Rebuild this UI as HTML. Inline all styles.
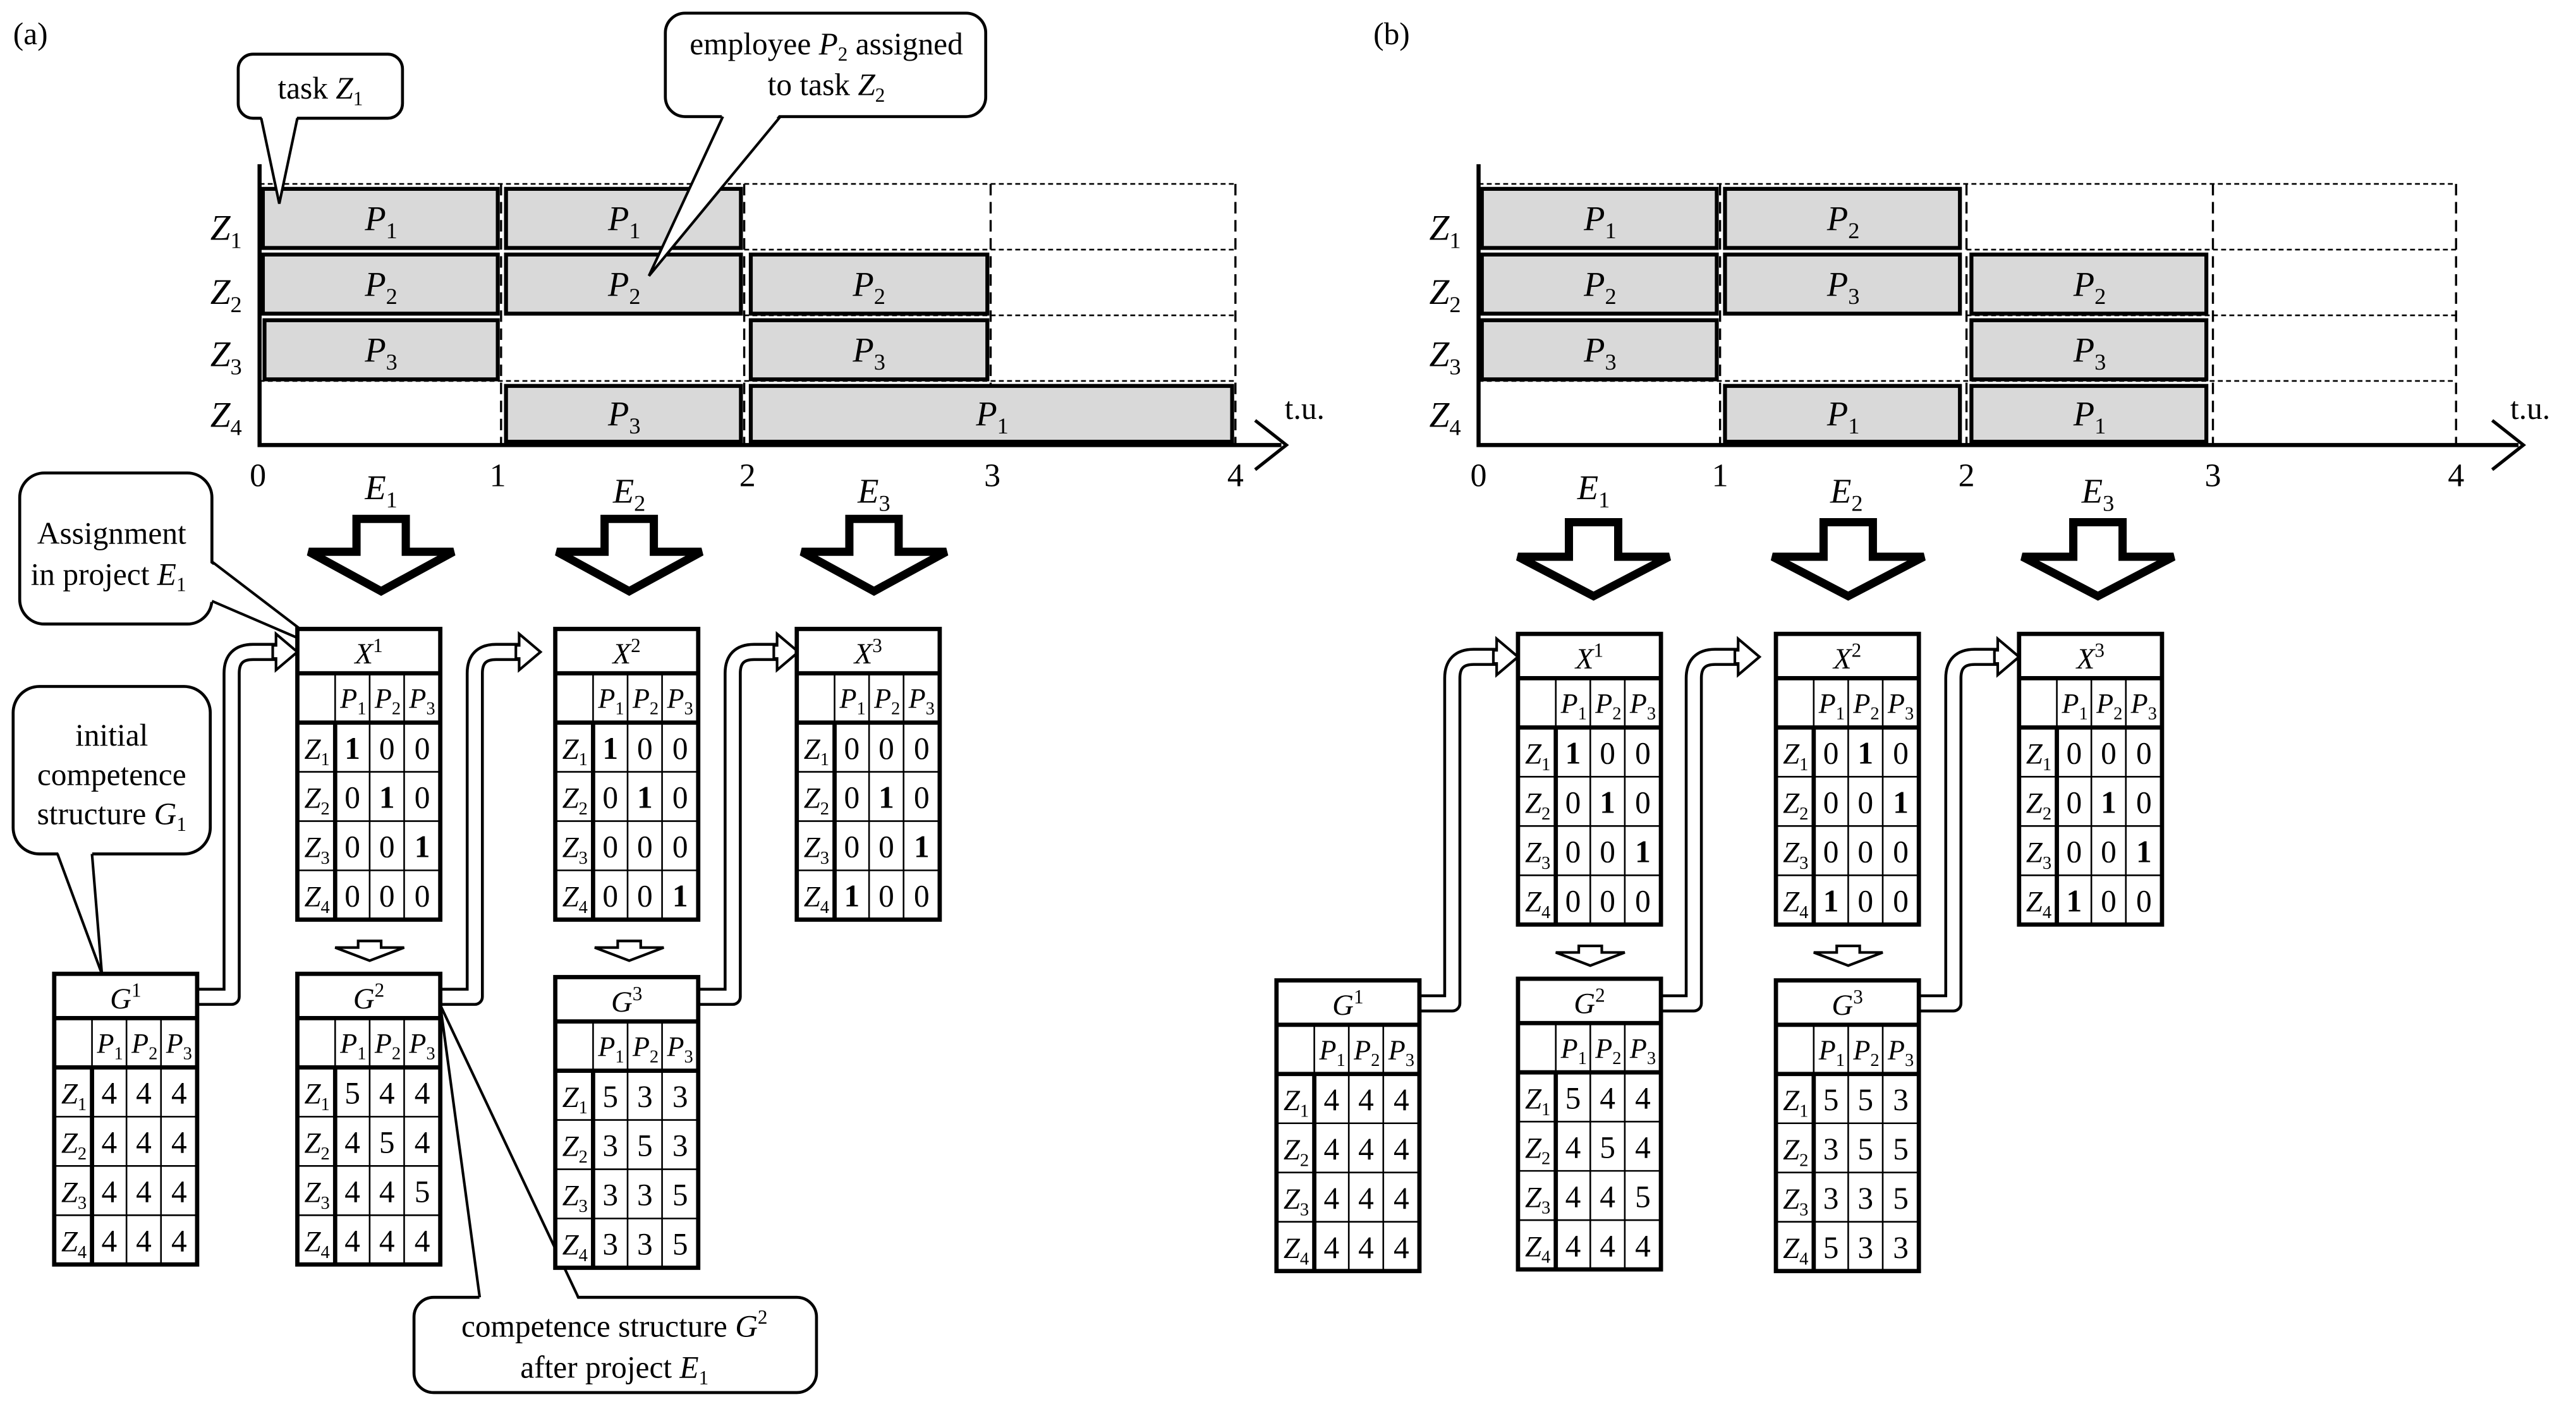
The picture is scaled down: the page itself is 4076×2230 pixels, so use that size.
<!DOCTYPE html>
<html><head><meta charset="utf-8"><style>
html,body{margin:0;padding:0;background:#fff}
svg{display:block}
text{font-family:"Liberation Serif",serif;fill:#000}
.i{font-style:italic}
tspan[font-size]{font-style:normal}
.c{text-anchor:middle}
.tb{fill:#fff;stroke:#000;stroke-width:2.6}
.th{fill:none;stroke:#000;stroke-width:2.6}
.tn{fill:none;stroke:#000;stroke-width:1}
.bar{fill:#d9d9d9;stroke:#000;stroke-width:2.4}
.dl{stroke:#000;stroke-width:1;stroke-dasharray:3,2;fill:none}
.dv{stroke:#000;stroke-width:1.3;stroke-dasharray:7,4;fill:none}
.cl{fill:#fff;stroke:#000;stroke-width:1.8}
.cv{font-size:19px;text-anchor:middle}
.cz{font-size:18px;font-style:italic;text-anchor:middle}
.ph{font-size:17px;font-style:italic;text-anchor:middle}
.hd{font-size:18px;font-style:italic;text-anchor:middle}
.ct{font-size:19px;text-anchor:middle}
</style></head><body>
<svg width="4076" height="2230" viewBox="0 0 1568 858" preserveAspectRatio="none" xmlns="http://www.w3.org/2000/svg">
<defs>
<g id="grid">
<rect x="0" y="0" width="87" height="177" class="tb"/>
<path class="th" d="M0 27H87M0 57H87M23 57V177"/>
<path class="tn" d="M23 27V57M44 27V177M65 27V177M0 87H87M0 117H87M0 147H87"/>
</g>
</defs>

<text x="8" y="27" font-size="19">(a)</text>
<text x="836" y="27" font-size="19">(b)</text>

<!-- ===== Gantt (a) ===== -->
<g>
<path class="dl" d="M158 112H752M453 152H752M453 192H752M158 232H752"/>
<path class="dv" d="M305 112V270M453 112V270M603 112V270M752 112V270"/>
<rect class="bar" x="160" y="115" width="143" height="36"/>
<rect class="bar" x="308" y="115" width="143" height="36"/>
<rect class="bar" x="160" y="155" width="143" height="36"/>
<rect class="bar" x="308" y="155" width="143" height="36"/>
<rect class="bar" x="457" y="155" width="144" height="36"/>
<rect class="bar" x="161" y="195" width="142" height="36"/>
<rect class="bar" x="457" y="195" width="144" height="36"/>
<rect class="bar" x="308" y="235" width="143" height="34"/>
<rect class="bar" x="457" y="235" width="293" height="34"/>
<path d="M158 100V271H780" fill="none" stroke="#000" stroke-width="2.5"/>
<path d="M764 256L783 271L764 286" fill="none" stroke="#000" stroke-width="2"/>
<text x="782" y="255" font-size="19">t.u.</text>
<g font-size="22" class="i">
<text x="128" y="146">Z<tspan font-size="14" dy="5">1</tspan></text>
<text x="128" y="185">Z<tspan font-size="14" dy="5">2</tspan></text>
<text x="128" y="223">Z<tspan font-size="14" dy="5">3</tspan></text>
<text x="128" y="260">Z<tspan font-size="14" dy="5">4</tspan></text>
</g>
<g font-size="21" class="i c">
<text x="232" y="140">P<tspan font-size="14" dy="5">1</tspan></text>
<text x="380" y="140">P<tspan font-size="14" dy="5">1</tspan></text>
<text x="232" y="180">P<tspan font-size="14" dy="5">2</tspan></text>
<text x="380" y="180">P<tspan font-size="14" dy="5">2</tspan></text>
<text x="529" y="180">P<tspan font-size="14" dy="5">2</tspan></text>
<text x="232" y="220">P<tspan font-size="14" dy="5">3</tspan></text>
<text x="529" y="220">P<tspan font-size="14" dy="5">3</tspan></text>
<text x="380" y="259">P<tspan font-size="14" dy="5">3</tspan></text>
<text x="604" y="259">P<tspan font-size="14" dy="5">1</tspan></text>
</g>
<g font-size="20" class="c">
<text x="157" y="296">0</text><text x="303" y="296">1</text><text x="455" y="296">2</text><text x="604" y="296">3</text><text x="752" y="296">4</text>
</g>
<g font-size="21" class="i c">
<text x="232" y="304">E<tspan font-size="14" dy="5">1</tspan></text>
<text x="383" y="306">E<tspan font-size="14" dy="5">2</tspan></text>
<text x="532" y="306">E<tspan font-size="14" dy="5">3</tspan></text>
</g>
<g fill="#fff" stroke="#000" stroke-width="5" stroke-linejoin="miter">
<polygon points="217,316 247,316 247,336 276,336 232,360 188,336 217,336"/>
<polygon points="368,316 398,316 398,336 427,336 383,360 339,336 368,336"/>
<polygon points="517,316 547,316 547,336 576,336 532,360 488,336 517,336"/>
</g>
</g>

<!-- ===== Gantt (b) ===== -->
<g>
<path class="dl" d="M900 112H1495M1197 152H1495M1197 192H1495M900 232H1495"/>
<path class="dv" d="M1047 112V270M1197 112V270M1347 112V270M1495 112V270"/>
<rect class="bar" x="902" y="115" width="143" height="36"/>
<rect class="bar" x="1050" y="115" width="143" height="36"/>
<rect class="bar" x="902" y="155" width="143" height="36"/>
<rect class="bar" x="1050" y="155" width="143" height="36"/>
<rect class="bar" x="1200" y="155" width="143" height="36"/>
<rect class="bar" x="902" y="195" width="143" height="36"/>
<rect class="bar" x="1200" y="195" width="143" height="36"/>
<rect class="bar" x="1050" y="235" width="143" height="34"/>
<rect class="bar" x="1200" y="235" width="143" height="34"/>
<path d="M900 100V271H1533" fill="none" stroke="#000" stroke-width="2.5"/>
<path d="M1517 256L1536 271L1517 286" fill="none" stroke="#000" stroke-width="2"/>
<text x="1528" y="255" font-size="19">t.u.</text>
<g font-size="22" class="i">
<text x="870" y="146">Z<tspan font-size="14" dy="5">1</tspan></text>
<text x="870" y="185">Z<tspan font-size="14" dy="5">2</tspan></text>
<text x="870" y="223">Z<tspan font-size="14" dy="5">3</tspan></text>
<text x="870" y="260">Z<tspan font-size="14" dy="5">4</tspan></text>
</g>
<g font-size="21" class="i c">
<text x="974" y="140">P<tspan font-size="14" dy="5">1</tspan></text>
<text x="1122" y="140">P<tspan font-size="14" dy="5">2</tspan></text>
<text x="974" y="180">P<tspan font-size="14" dy="5">2</tspan></text>
<text x="1122" y="180">P<tspan font-size="14" dy="5">3</tspan></text>
<text x="1272" y="180">P<tspan font-size="14" dy="5">2</tspan></text>
<text x="974" y="220">P<tspan font-size="14" dy="5">3</tspan></text>
<text x="1272" y="220">P<tspan font-size="14" dy="5">3</tspan></text>
<text x="1122" y="259">P<tspan font-size="14" dy="5">1</tspan></text>
<text x="1272" y="259">P<tspan font-size="14" dy="5">1</tspan></text>
</g>
<g font-size="20" class="c">
<text x="900" y="296">0</text><text x="1047" y="296">1</text><text x="1197" y="296">2</text><text x="1347" y="296">3</text><text x="1495" y="296">4</text>
</g>
<g font-size="21" class="i c">
<text x="970" y="304">E<tspan font-size="14" dy="5">1</tspan></text>
<text x="1124" y="306">E<tspan font-size="14" dy="5">2</tspan></text>
<text x="1277" y="306">E<tspan font-size="14" dy="5">3</tspan></text>
</g>
<g fill="#fff" stroke="#000" stroke-width="5">
<polygon points="955,318 985,318 985,339 1016,339 970,363 924,339 955,339"/>
<polygon points="1110,318 1140,318 1140,339 1171,339 1125,363 1079,339 1110,339"/>
<polygon points="1262,318 1292,318 1292,339 1323,339 1277,363 1231,339 1262,339"/>
</g>
</g>

<!-- ===== callouts (a) ===== -->
<rect class="cl" x="145" y="33" width="100" height="39" rx="9"/>
<polygon points="159,70 181,70 170,124" fill="#fff"/>
<polyline points="159,72 170,124 181,72" fill="none" stroke="#000" stroke-width="1.6"/>
<text x="195" y="60" class="ct">task <tspan class="i">Z</tspan><tspan font-size="12" dy="4">1</tspan></text>

<rect class="cl" x="405" y="8" width="195" height="63" rx="12"/>
<polygon points="440,69 475,69 395,168" fill="#fff"/>
<polyline points="440,71 395,168 475,71" fill="none" stroke="#000" stroke-width="1.6"/>
<text x="503" y="33" class="ct">employee <tspan class="i">P</tspan><tspan font-size="12" dy="4">2</tspan><tspan dy="-4"> assigned</tspan></text>
<text x="503" y="58" class="ct">to task <tspan class="i">Z</tspan><tspan font-size="12" dy="4">2</tspan></text>

<rect class="cl" x="12" y="288" width="117" height="92" rx="15"/>
<polygon points="127,342 127,366 201,397" fill="#fff"/>
<polyline points="129,342 201,397 129,366" fill="none" stroke="#000" stroke-width="1.6"/>
<text x="68" y="331" class="ct">Assignment</text>
<text x="66" y="356" class="ct">in project <tspan class="i">E</tspan><tspan font-size="12" dy="4">1</tspan></text>

<rect class="cl" x="8" y="418" width="120" height="102" rx="16"/>
<polygon points="35,518 56,518 62,593" fill="#fff"/>
<polyline points="35,520 62,593 56,520" fill="none" stroke="#000" stroke-width="1.6"/>
<text x="68" y="454" class="ct">initial</text>
<text x="68" y="478" class="ct">competence</text>
<text x="68" y="502" class="ct">structure <tspan class="i">G</tspan><tspan font-size="12" dy="4">1</tspan></text>

<rect class="cl" x="252" y="790" width="245" height="58" rx="12"/>
<polygon points="292,792 352,792 268,612" fill="#fff"/>
<polyline points="292,790 268,612 352,790" fill="none" stroke="#000" stroke-width="1.6"/>
<text x="374" y="814" class="ct">competence structure <tspan class="i">G</tspan><tspan font-size="12" dy="-8">2</tspan></text>
<text x="374" y="839" class="ct">after project <tspan class="i">E</tspan><tspan font-size="12" dy="4">1</tspan></text>

<!-- ===== connectors ===== -->
<g fill="none" stroke-linejoin="round">
<g stroke="#000" stroke-width="11">
<path d="M120 607H141V410Q141 397 154 397H170"/>
<path d="M268 607H289V410Q289 397 302 397H318"/>
<path d="M425 607H446V410Q446 397 459 397H475"/>
<path d="M863 611H884V413Q884 400 897 400H913"/>
<path d="M1010 611H1031V413Q1031 400 1044 400H1060"/>
<path d="M1168 611H1189V413Q1189 400 1202 400H1218"/>
</g>
<g stroke="#fff" stroke-width="7.5">
<path d="M118 607H141V410Q141 397 154 397H172"/>
<path d="M266 607H289V410Q289 397 302 397H320"/>
<path d="M423 607H446V410Q446 397 459 397H477"/>
<path d="M861 611H884V413Q884 400 897 400H915"/>
<path d="M1008 611H1031V413Q1031 400 1044 400H1062"/>
<path d="M1166 611H1189V413Q1189 400 1202 400H1220"/>
</g>
</g>
<g fill="#fff" stroke="#000" stroke-width="1.6">
<polygon points="168,386 181,397 168,408 168,401 166,401 166,393 168,393"/>
<polygon points="316,386 329,397 316,408 316,401 314,401 314,393 316,393"/>
<polygon points="473,386 486,397 473,408 473,401 471,401 471,393 473,393"/>
<polygon points="911,389 924,400 911,411 911,404 909,404 909,396 911,396"/>
<polygon points="1058,389 1071,400 1058,411 1058,404 1056,404 1056,396 1058,396"/>
<polygon points="1216,389 1229,400 1216,411 1216,404 1214,404 1214,396 1216,396"/>
</g>

<!-- small arrows -->
<g fill="#fff" stroke="#000" stroke-width="1.6">
<polygon points="218,573 232,573 232,577 246,577 225,585 204,577 218,577"/>
<polygon points="376,573 390,573 390,577 404,577 383,585 362,577 376,577"/>
<polygon points="961,576 975,576 975,580 989,580 968,588 947,580 961,580"/>
<polygon points="1118,576 1132,576 1132,580 1146,580 1125,588 1104,580 1118,580"/>
</g>

<!-- ===== Tables (a) ===== -->
<g transform="translate(181,383)">
<use href="#grid"/>
<text x="43.5" y="21" class="hd">X<tspan font-size="12" dy="-7">1</tspan></text>
<g class="ph"><text x="34" y="48">P<tspan font-size="11" dy="4">1</tspan></text><text x="55" y="48">P<tspan font-size="11" dy="4">2</tspan></text><text x="76" y="48">P<tspan font-size="11" dy="4">3</tspan></text></g>
<g class="cz"><text x="12" y="79">Z<tspan font-size="11" dy="4">1</tspan></text><text x="12" y="109">Z<tspan font-size="11" dy="4">2</tspan></text><text x="12" y="139">Z<tspan font-size="11" dy="4">3</tspan></text><text x="12" y="169">Z<tspan font-size="11" dy="4">4</tspan></text></g>
<g class="cv"><text x="33.5" y="79" font-weight="bold">1</text><text x="54.5" y="79">0</text><text x="76" y="79">0</text>
<text x="33.5" y="109">0</text><text x="54.5" y="109" font-weight="bold">1</text><text x="76" y="109">0</text>
<text x="33.5" y="139">0</text><text x="54.5" y="139">0</text><text x="76" y="139" font-weight="bold">1</text>
<text x="33.5" y="169">0</text><text x="54.5" y="169">0</text><text x="76" y="169">0</text></g>
</g>
<g transform="translate(338,383)">
<use href="#grid"/>
<text x="43.5" y="21" class="hd">X<tspan font-size="12" dy="-7">2</tspan></text>
<g class="ph"><text x="34" y="48">P<tspan font-size="11" dy="4">1</tspan></text><text x="55" y="48">P<tspan font-size="11" dy="4">2</tspan></text><text x="76" y="48">P<tspan font-size="11" dy="4">3</tspan></text></g>
<g class="cz"><text x="12" y="79">Z<tspan font-size="11" dy="4">1</tspan></text><text x="12" y="109">Z<tspan font-size="11" dy="4">2</tspan></text><text x="12" y="139">Z<tspan font-size="11" dy="4">3</tspan></text><text x="12" y="169">Z<tspan font-size="11" dy="4">4</tspan></text></g>
<g class="cv"><text x="33.5" y="79" font-weight="bold">1</text><text x="54.5" y="79">0</text><text x="76" y="79">0</text>
<text x="33.5" y="109">0</text><text x="54.5" y="109" font-weight="bold">1</text><text x="76" y="109">0</text>
<text x="33.5" y="139">0</text><text x="54.5" y="139">0</text><text x="76" y="139">0</text>
<text x="33.5" y="169">0</text><text x="54.5" y="169">0</text><text x="76" y="169" font-weight="bold">1</text></g>
</g>
<g transform="translate(485,383)">
<use href="#grid"/>
<text x="43.5" y="21" class="hd">X<tspan font-size="12" dy="-7">3</tspan></text>
<g class="ph"><text x="34" y="48">P<tspan font-size="11" dy="4">1</tspan></text><text x="55" y="48">P<tspan font-size="11" dy="4">2</tspan></text><text x="76" y="48">P<tspan font-size="11" dy="4">3</tspan></text></g>
<g class="cz"><text x="12" y="79">Z<tspan font-size="11" dy="4">1</tspan></text><text x="12" y="109">Z<tspan font-size="11" dy="4">2</tspan></text><text x="12" y="139">Z<tspan font-size="11" dy="4">3</tspan></text><text x="12" y="169">Z<tspan font-size="11" dy="4">4</tspan></text></g>
<g class="cv"><text x="33.5" y="79">0</text><text x="54.5" y="79">0</text><text x="76" y="79">0</text>
<text x="33.5" y="109">0</text><text x="54.5" y="109" font-weight="bold">1</text><text x="76" y="109">0</text>
<text x="33.5" y="139">0</text><text x="54.5" y="139">0</text><text x="76" y="139" font-weight="bold">1</text>
<text x="33.5" y="169" font-weight="bold">1</text><text x="54.5" y="169">0</text><text x="76" y="169">0</text></g>
</g>
<g transform="translate(33,593)">
<use href="#grid"/>
<text x="43.5" y="21" class="hd">G<tspan font-size="12" dy="-7">1</tspan></text>
<g class="ph"><text x="34" y="48">P<tspan font-size="11" dy="4">1</tspan></text><text x="55" y="48">P<tspan font-size="11" dy="4">2</tspan></text><text x="76" y="48">P<tspan font-size="11" dy="4">3</tspan></text></g>
<g class="cz"><text x="12" y="79">Z<tspan font-size="11" dy="4">1</tspan></text><text x="12" y="109">Z<tspan font-size="11" dy="4">2</tspan></text><text x="12" y="139">Z<tspan font-size="11" dy="4">3</tspan></text><text x="12" y="169">Z<tspan font-size="11" dy="4">4</tspan></text></g>
<g class="cv"><text x="33.5" y="79">4</text><text x="54.5" y="79">4</text><text x="76" y="79">4</text>
<text x="33.5" y="109">4</text><text x="54.5" y="109">4</text><text x="76" y="109">4</text>
<text x="33.5" y="139">4</text><text x="54.5" y="139">4</text><text x="76" y="139">4</text>
<text x="33.5" y="169">4</text><text x="54.5" y="169">4</text><text x="76" y="169">4</text></g>
</g>
<g transform="translate(181,593)">
<use href="#grid"/>
<text x="43.5" y="21" class="hd">G<tspan font-size="12" dy="-7">2</tspan></text>
<g class="ph"><text x="34" y="48">P<tspan font-size="11" dy="4">1</tspan></text><text x="55" y="48">P<tspan font-size="11" dy="4">2</tspan></text><text x="76" y="48">P<tspan font-size="11" dy="4">3</tspan></text></g>
<g class="cz"><text x="12" y="79">Z<tspan font-size="11" dy="4">1</tspan></text><text x="12" y="109">Z<tspan font-size="11" dy="4">2</tspan></text><text x="12" y="139">Z<tspan font-size="11" dy="4">3</tspan></text><text x="12" y="169">Z<tspan font-size="11" dy="4">4</tspan></text></g>
<g class="cv"><text x="33.5" y="79">5</text><text x="54.5" y="79">4</text><text x="76" y="79">4</text>
<text x="33.5" y="109">4</text><text x="54.5" y="109">5</text><text x="76" y="109">4</text>
<text x="33.5" y="139">4</text><text x="54.5" y="139">4</text><text x="76" y="139">5</text>
<text x="33.5" y="169">4</text><text x="54.5" y="169">4</text><text x="76" y="169">4</text></g>
</g>
<g transform="translate(338,595)">
<use href="#grid"/>
<text x="43.5" y="21" class="hd">G<tspan font-size="12" dy="-7">3</tspan></text>
<g class="ph"><text x="34" y="48">P<tspan font-size="11" dy="4">1</tspan></text><text x="55" y="48">P<tspan font-size="11" dy="4">2</tspan></text><text x="76" y="48">P<tspan font-size="11" dy="4">3</tspan></text></g>
<g class="cz"><text x="12" y="79">Z<tspan font-size="11" dy="4">1</tspan></text><text x="12" y="109">Z<tspan font-size="11" dy="4">2</tspan></text><text x="12" y="139">Z<tspan font-size="11" dy="4">3</tspan></text><text x="12" y="169">Z<tspan font-size="11" dy="4">4</tspan></text></g>
<g class="cv"><text x="33.5" y="79">5</text><text x="54.5" y="79">3</text><text x="76" y="79">3</text>
<text x="33.5" y="109">3</text><text x="54.5" y="109">5</text><text x="76" y="109">3</text>
<text x="33.5" y="139">3</text><text x="54.5" y="139">3</text><text x="76" y="139">5</text>
<text x="33.5" y="169">3</text><text x="54.5" y="169">3</text><text x="76" y="169">5</text></g>
</g>

<!-- ===== Tables (b) ===== -->
<g transform="translate(924,386)">
<use href="#grid"/>
<text x="43.5" y="21" class="hd">X<tspan font-size="12" dy="-7">1</tspan></text>
<g class="ph"><text x="34" y="48">P<tspan font-size="11" dy="4">1</tspan></text><text x="55" y="48">P<tspan font-size="11" dy="4">2</tspan></text><text x="76" y="48">P<tspan font-size="11" dy="4">3</tspan></text></g>
<g class="cz"><text x="12" y="79">Z<tspan font-size="11" dy="4">1</tspan></text><text x="12" y="109">Z<tspan font-size="11" dy="4">2</tspan></text><text x="12" y="139">Z<tspan font-size="11" dy="4">3</tspan></text><text x="12" y="169">Z<tspan font-size="11" dy="4">4</tspan></text></g>
<g class="cv"><text x="33.5" y="79" font-weight="bold">1</text><text x="54.5" y="79">0</text><text x="76" y="79">0</text>
<text x="33.5" y="109">0</text><text x="54.5" y="109" font-weight="bold">1</text><text x="76" y="109">0</text>
<text x="33.5" y="139">0</text><text x="54.5" y="139">0</text><text x="76" y="139" font-weight="bold">1</text>
<text x="33.5" y="169">0</text><text x="54.5" y="169">0</text><text x="76" y="169">0</text></g>
</g>
<g transform="translate(1081,386)">
<use href="#grid"/>
<text x="43.5" y="21" class="hd">X<tspan font-size="12" dy="-7">2</tspan></text>
<g class="ph"><text x="34" y="48">P<tspan font-size="11" dy="4">1</tspan></text><text x="55" y="48">P<tspan font-size="11" dy="4">2</tspan></text><text x="76" y="48">P<tspan font-size="11" dy="4">3</tspan></text></g>
<g class="cz"><text x="12" y="79">Z<tspan font-size="11" dy="4">1</tspan></text><text x="12" y="109">Z<tspan font-size="11" dy="4">2</tspan></text><text x="12" y="139">Z<tspan font-size="11" dy="4">3</tspan></text><text x="12" y="169">Z<tspan font-size="11" dy="4">4</tspan></text></g>
<g class="cv"><text x="33.5" y="79">0</text><text x="54.5" y="79" font-weight="bold">1</text><text x="76" y="79">0</text>
<text x="33.5" y="109">0</text><text x="54.5" y="109">0</text><text x="76" y="109" font-weight="bold">1</text>
<text x="33.5" y="139">0</text><text x="54.5" y="139">0</text><text x="76" y="139">0</text>
<text x="33.5" y="169" font-weight="bold">1</text><text x="54.5" y="169">0</text><text x="76" y="169">0</text></g>
</g>
<g transform="translate(1229,386)">
<use href="#grid"/>
<text x="43.5" y="21" class="hd">X<tspan font-size="12" dy="-7">3</tspan></text>
<g class="ph"><text x="34" y="48">P<tspan font-size="11" dy="4">1</tspan></text><text x="55" y="48">P<tspan font-size="11" dy="4">2</tspan></text><text x="76" y="48">P<tspan font-size="11" dy="4">3</tspan></text></g>
<g class="cz"><text x="12" y="79">Z<tspan font-size="11" dy="4">1</tspan></text><text x="12" y="109">Z<tspan font-size="11" dy="4">2</tspan></text><text x="12" y="139">Z<tspan font-size="11" dy="4">3</tspan></text><text x="12" y="169">Z<tspan font-size="11" dy="4">4</tspan></text></g>
<g class="cv"><text x="33.5" y="79">0</text><text x="54.5" y="79">0</text><text x="76" y="79">0</text>
<text x="33.5" y="109">0</text><text x="54.5" y="109" font-weight="bold">1</text><text x="76" y="109">0</text>
<text x="33.5" y="139">0</text><text x="54.5" y="139">0</text><text x="76" y="139" font-weight="bold">1</text>
<text x="33.5" y="169" font-weight="bold">1</text><text x="54.5" y="169">0</text><text x="76" y="169">0</text></g>
</g>
<g transform="translate(777,597)">
<use href="#grid"/>
<text x="43.5" y="21" class="hd">G<tspan font-size="12" dy="-7">1</tspan></text>
<g class="ph"><text x="34" y="48">P<tspan font-size="11" dy="4">1</tspan></text><text x="55" y="48">P<tspan font-size="11" dy="4">2</tspan></text><text x="76" y="48">P<tspan font-size="11" dy="4">3</tspan></text></g>
<g class="cz"><text x="12" y="79">Z<tspan font-size="11" dy="4">1</tspan></text><text x="12" y="109">Z<tspan font-size="11" dy="4">2</tspan></text><text x="12" y="139">Z<tspan font-size="11" dy="4">3</tspan></text><text x="12" y="169">Z<tspan font-size="11" dy="4">4</tspan></text></g>
<g class="cv"><text x="33.5" y="79">4</text><text x="54.5" y="79">4</text><text x="76" y="79">4</text>
<text x="33.5" y="109">4</text><text x="54.5" y="109">4</text><text x="76" y="109">4</text>
<text x="33.5" y="139">4</text><text x="54.5" y="139">4</text><text x="76" y="139">4</text>
<text x="33.5" y="169">4</text><text x="54.5" y="169">4</text><text x="76" y="169">4</text></g>
</g>
<g transform="translate(924,596)">
<use href="#grid"/>
<text x="43.5" y="21" class="hd">G<tspan font-size="12" dy="-7">2</tspan></text>
<g class="ph"><text x="34" y="48">P<tspan font-size="11" dy="4">1</tspan></text><text x="55" y="48">P<tspan font-size="11" dy="4">2</tspan></text><text x="76" y="48">P<tspan font-size="11" dy="4">3</tspan></text></g>
<g class="cz"><text x="12" y="79">Z<tspan font-size="11" dy="4">1</tspan></text><text x="12" y="109">Z<tspan font-size="11" dy="4">2</tspan></text><text x="12" y="139">Z<tspan font-size="11" dy="4">3</tspan></text><text x="12" y="169">Z<tspan font-size="11" dy="4">4</tspan></text></g>
<g class="cv"><text x="33.5" y="79">5</text><text x="54.5" y="79">4</text><text x="76" y="79">4</text>
<text x="33.5" y="109">4</text><text x="54.5" y="109">5</text><text x="76" y="109">4</text>
<text x="33.5" y="139">4</text><text x="54.5" y="139">4</text><text x="76" y="139">5</text>
<text x="33.5" y="169">4</text><text x="54.5" y="169">4</text><text x="76" y="169">4</text></g>
</g>
<g transform="translate(1081,597)">
<use href="#grid"/>
<text x="43.5" y="21" class="hd">G<tspan font-size="12" dy="-7">3</tspan></text>
<g class="ph"><text x="34" y="48">P<tspan font-size="11" dy="4">1</tspan></text><text x="55" y="48">P<tspan font-size="11" dy="4">2</tspan></text><text x="76" y="48">P<tspan font-size="11" dy="4">3</tspan></text></g>
<g class="cz"><text x="12" y="79">Z<tspan font-size="11" dy="4">1</tspan></text><text x="12" y="109">Z<tspan font-size="11" dy="4">2</tspan></text><text x="12" y="139">Z<tspan font-size="11" dy="4">3</tspan></text><text x="12" y="169">Z<tspan font-size="11" dy="4">4</tspan></text></g>
<g class="cv"><text x="33.5" y="79">5</text><text x="54.5" y="79">5</text><text x="76" y="79">3</text>
<text x="33.5" y="109">3</text><text x="54.5" y="109">5</text><text x="76" y="109">5</text>
<text x="33.5" y="139">3</text><text x="54.5" y="139">3</text><text x="76" y="139">5</text>
<text x="33.5" y="169">5</text><text x="54.5" y="169">3</text><text x="76" y="169">3</text></g>
</g>
</svg>
</body></html>
